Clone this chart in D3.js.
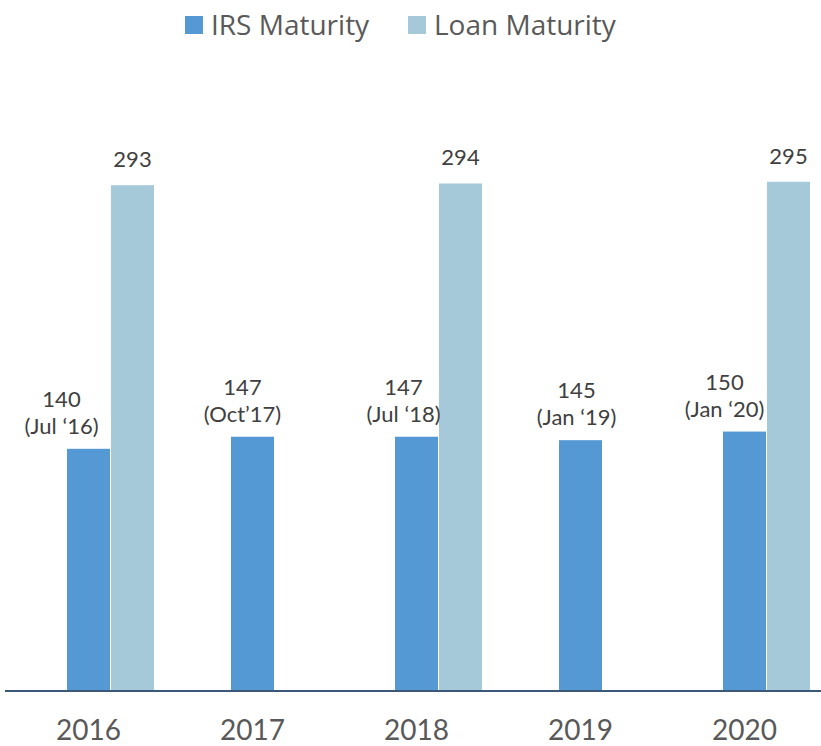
<!DOCTYPE html>
<html>
<head>
<meta charset="utf-8">
<script src="https://cdn.jsdelivr.net/npm/d3@7"></script>
<style>
  html, body { margin: 0; padding: 0; background: #fff; }
  svg { display: block; font-family: "Open Sans", "Noto Sans", sans-serif; }
</style>
</head>
<body>
<svg id="chart" width="821" height="746"></svg>
<script>
const years = ["2016", "2017", "2018", "2019", "2020"];
const irsValues = [140, 147, 147, 145, 150];
const irsDates = ["(Jul \u201816)", "(Oct\u201917)", "(Jul \u201818)", "(Jan \u201819)", "(Jan \u201820)"];
const loanValues = [293, null, 294, null, 295];
const seriesNames = ["IRS Maturity", "Loan Maturity"];
const colors = ["#5599d4", "#a6c9da"];
// label horizontal nudges (layout only)
const irsLabelDx = [-27, -10, -13, -4, -20];

const svg = d3.select("#chart");
const baseY = 690;
const labelFont = "Lato, \"Open Sans\", sans-serif";

const x = d3.scaleBand().domain(years).range([6.5, 826.5]).padding(0);
const y = d3.scaleLinear().domain([0, 350]).range([baseY, 87]);
const barW = 43;
const center = d => x(d) + x.bandwidth() / 2;

// IRS bars
svg.append("g").selectAll("rect")
  .data(years.map((yr, i) => ({ yr, v: irsValues[i], i })))
  .join("rect")
  .attr("x", d => center(d.yr) - barW / 2)
  .attr("y", d => y(d.v))
  .attr("width", barW)
  .attr("height", d => baseY - y(d.v))
  .attr("fill", colors[0]);

// Loan bars
const loanData = years.map((yr, i) => ({ yr, v: loanValues[i], i })).filter(d => d.v != null);
svg.append("g").selectAll("rect")
  .data(loanData)
  .join("rect")
  .attr("x", d => center(d.yr) + barW / 2 + 1)
  .attr("y", d => y(d.v))
  .attr("width", barW)
  .attr("height", d => baseY - y(d.v))
  .attr("fill", colors[1]);

// IRS labels
const irsLab = svg.append("g").attr("fill", "#404040").attr("font-size", 22)
  .attr("font-family", labelFont).attr("text-anchor", "middle");
years.forEach((yr, i) => {
  const cx = center(yr) + irsLabelDx[i];
  const top = y(irsValues[i]);
  irsLab.append("text").attr("x", cx).attr("y", top - 42).text(irsValues[i]);
  irsLab.append("text").attr("x", cx).attr("y", top - 15).text(irsDates[i]);
});

// Loan labels
svg.append("g").attr("fill", "#404040").attr("font-size", 22)
  .attr("font-family", labelFont).attr("text-anchor", "middle")
  .selectAll("text").data(loanData).join("text")
  .attr("x", d => center(d.yr) + barW / 2 + 1 + barW / 2)
  .attr("y", d => y(d.v) - 18)
  .text(d => d.v);

// Baseline
svg.append("line")
  .attr("x1", 5).attr("x2", 821)
  .attr("y1", baseY + 1).attr("y2", baseY + 1)
  .attr("stroke", "#3b5878").attr("stroke-width", 2);

// X axis labels
const xAxis = d3.axisBottom(x).tickSize(0).tickPadding(0);
const gx = svg.append("g").attr("transform", `translate(0,${baseY})`).call(xAxis);
gx.select(".domain").remove();
gx.selectAll(".tick text")
  .attr("y", 50)
  .attr("dy", 0)
  .attr("font-size", 28)
  .attr("font-family", labelFont)
  .attr("fill", "#595959");

// Legend
const legend = svg.append("g");
const legendItems = [
  { name: seriesNames[0], color: colors[0], sx: 185, tx: 211 },
  { name: seriesNames[1], color: colors[1], sx: 408, tx: 434 }
];
legendItems.forEach(it => {
  legend.append("rect").attr("x", it.sx).attr("y", 16).attr("width", 18).attr("height", 18).attr("fill", it.color);
  legend.append("text").attr("x", it.tx).attr("y", 35).attr("font-size", 28).attr("fill", "#595959").text(it.name);
});
</script>
</body>
</html>
